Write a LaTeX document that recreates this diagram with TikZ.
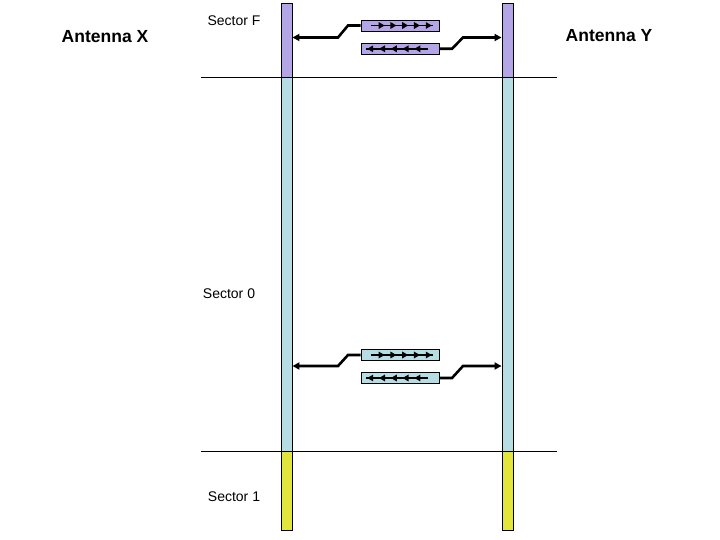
\documentclass[tikz,border=0pt]{standalone}
\usepackage{fontspec}
\setmainfont{Liberation Sans}
\usetikzlibrary{arrows.meta,decorations.markings}
\definecolor{secF}{RGB}{180,165,230}
\definecolor{secZ}{RGB}{183,221,228}
\definecolor{secO}{RGB}{226,230,60}
\tikzset{
  barseg/.style={draw=black, line width=0.9pt, inner sep=0pt, minimum width=11pt},
  pkt/.style={draw=black, line width=0.9pt, inner sep=0pt, minimum width=78pt, minimum height=11pt},
  conn/.style={line width=2.6pt, -{Triangle[length=7pt,width=7pt]}},
  flow/.style={line width=1.7pt, postaction={decorate}, decoration={markings,
      mark=between positions 0.22 and 1 step 0.19 with {\arrow{Triangle[length=6pt,width=6.5pt]}}}},
  sep/.style={line width=0.8pt},
  ant/.style={font=\fontsize{17.5}{20}\selectfont\bfseries},
  sec/.style={font=\fontsize{14}{16}\selectfont}
}
\begin{document}
\begin{tikzpicture}[x=1pt,y=-1pt]
\useasboundingbox[fill=white] (0,0) rectangle (720,540);
% bars
\node[barseg, fill=secZ, minimum height=374pt] (LZ) at (286.5,264) {};
\node[barseg, fill=secZ, minimum height=374pt] (RZ) at (507.5,264) {};
\node[barseg, fill=secF, minimum height=74pt] (LF) at (286.5,40) {};
\node[barseg, fill=secF, minimum height=74pt] (RF) at (507.5,40) {};
\node[barseg, fill=secO, minimum height=79pt] (LO) at (286.5,490.5) {};
\node[barseg, fill=secO, minimum height=79pt] (RO) at (507.5,490.5) {};
% separators
\coordinate (s1a) at (201,77); \coordinate (s1b) at (557,77);
\coordinate (s2a) at (201,451); \coordinate (s2b) at (557,451);
\draw[sep] (s1a) -- (s1b);
\draw[sep] (s2a) -- (s2b);
% labels
\node[ant] (AX) at (105,37) {Antenna X};
\node[ant] (AY) at (609,36) {Antenna Y};
\node[sec] (tF) at (234,21) {Sector F};
\node[sec] (t0) at (229,294) {Sector 0};
\node[sec] (t1) at (234,497) {Sector 1};
% sector F packets
\node[pkt, fill=secF] (FB1) at (400,25.5) {};
\node[pkt, fill=secF] (FB2) at (400,48.8) {};
\coordinate (f1a) at (371,25.5); \coordinate (f1b) at (433,25.5);
\coordinate (f2a) at (428,48.8); \coordinate (f2b) at (366,48.8);
\draw[flow] (f1a) -- (f1b);
\draw[flow] (f2a) -- (f2b);
\coordinate (fk1) at (348,25.5); \coordinate (fk2) at (338,37.5);
\coordinate (fk3) at (452,48.8); \coordinate (fk4) at (463,37.5);
\draw[conn] (FB1.west) -- (fk1) -- (fk2) -- (fk2 -| LF.east);
\draw[conn] (FB2.east) -- (fk3) -- (fk4) -- (fk4 -| RF.west);
% sector 0 packets
\node[pkt, fill=secZ] (ZB1) at (400,355) {};
\node[pkt, fill=secZ] (ZB2) at (400,378) {};
\coordinate (z1a) at (371,355); \coordinate (z1b) at (433,355);
\coordinate (z2a) at (428,378); \coordinate (z2b) at (366,378);
\draw[flow] (z1a) -- (z1b);
\draw[flow] (z2a) -- (z2b);
\coordinate (zk1) at (348,355); \coordinate (zk2) at (338,366);
\coordinate (zk3) at (452,378); \coordinate (zk4) at (463,366);
\draw[conn] (ZB1.west) -- (zk1) -- (zk2) -- (zk2 -| LZ.east);
\draw[conn] (ZB2.east) -- (zk3) -- (zk4) -- (zk4 -| RZ.west);
\end{tikzpicture}
\end{document}
